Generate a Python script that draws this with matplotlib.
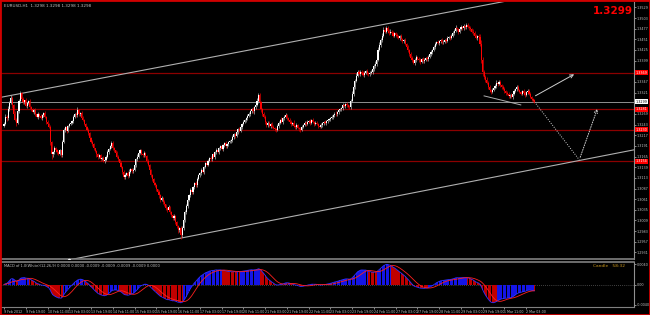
import numpy as np
import pandas as pd
import matplotlib
matplotlib.use("Agg")
import matplotlib.pyplot as plt
from matplotlib.patches import Rectangle

# ---------------- data (EURUSD H1, prices in pips: 3245 -> 1.3245) ----------------
first_open_pips = 3240
close_pips = [
    3245, 3262, 3258, 3280, 3295, 3308, 3290, 3270, 3255, 3247,
    3275, 3300, 3320, 3305, 3298, 3302, 3288, 3295, 3300, 3285,
    3280, 3274, 3278, 3268, 3262, 3270, 3265, 3260, 3266, 3271,
    3262, 3250, 3245, 3237, 3200, 3170, 3175, 3185, 3181, 3176,
    3172, 3180, 3169, 3200, 3230, 3236, 3228, 3240, 3244, 3247,
    3252, 3262, 3270, 3266, 3279, 3268, 3272, 3260, 3254, 3245,
    3238, 3230, 3222, 3210, 3200, 3195, 3185, 3178, 3170, 3164,
    3168, 3160, 3162, 3155, 3157, 3165, 3175, 3184, 3190, 3198,
    3185, 3180, 3174, 3165, 3158, 3150, 3140, 3128, 3115, 3120,
    3125, 3118, 3128, 3135, 3130, 3132, 3145, 3158, 3165, 3174,
    3180, 3172, 3168, 3174, 3166, 3155, 3145, 3132, 3120, 3110,
    3100, 3095, 3085, 3078, 3070, 3059, 3065, 3055, 3048, 3040,
    3035, 3042, 3030, 3022, 3015, 3020, 3005, 2995, 2985, 2990,
    2974, 2990, 3010, 3030, 3045, 3060, 3070, 3083, 3078, 3090,
    3100, 3095, 3110, 3120, 3125, 3132, 3128, 3140, 3150, 3145,
    3155, 3162, 3158, 3170, 3165, 3175, 3181, 3176, 3185, 3190,
    3184, 3192, 3198, 3190, 3195, 3200, 3202, 3205, 3212, 3220,
    3215, 3225, 3232, 3228, 3238, 3245, 3250, 3255, 3259, 3265,
    3270, 3276, 3280, 3275, 3285, 3291, 3300, 3315, 3298, 3280,
    3270, 3262, 3250, 3242, 3248, 3240, 3245, 3238, 3235, 3232,
    3230, 3240, 3248, 3255, 3250, 3258, 3262, 3266, 3260, 3255,
    3250, 3245, 3248, 3240, 3236, 3242, 3235, 3232, 3230, 3238,
    3242, 3248, 3245, 3250, 3252, 3248, 3254, 3250, 3245, 3248,
    3244, 3240, 3238, 3242, 3246, 3250, 3248, 3252, 3255, 3256,
    3259, 3262, 3266, 3270, 3268, 3274, 3278, 3280, 3283, 3290,
    3288, 3292, 3290, 3287, 3286, 3300, 3318, 3335, 3350, 3362,
    3371, 3366, 3372, 3368, 3365, 3370, 3374, 3368, 3366, 3370,
    3372, 3378, 3385, 3392, 3401, 3425, 3438, 3449, 3460, 3474,
    3470, 3479, 3472, 3466, 3470, 3466, 3460, 3466, 3462, 3458,
    3454, 3458, 3452, 3446, 3449, 3440, 3432, 3425, 3415, 3406,
    3400, 3393, 3400, 3408, 3404, 3401, 3396, 3402, 3398, 3401,
    3405, 3402, 3408, 3415, 3420, 3425, 3432, 3440, 3445, 3442,
    3446, 3449, 3444, 3445, 3450, 3448, 3454, 3457, 3455, 3460,
    3466, 3472, 3479, 3475, 3470, 3476, 3481, 3478, 3483, 3480,
    3486, 3482, 3479, 3475, 3470, 3466, 3460, 3454, 3458, 3457,
    3440, 3401, 3371, 3360, 3352, 3345, 3335, 3327, 3322, 3328,
    3332, 3338, 3345, 3342, 3347, 3340, 3335, 3330, 3325, 3320,
    3318, 3312, 3315, 3310, 3318, 3325, 3330, 3335, 3328, 3322,
    3318, 3324, 3320, 3315, 3322, 3325, 3318, 3310, 3305, 3302,
    3298,
]
# wick lengths above the body top / below the body bottom, in pips
upper_wick_pips = [
    4, 6, 5, 8, 5, 7, 4, 3, 5, 3,   5, 6, 4, 3, 6, 2, 5, 4, 3, 5,
    3, 4, 2, 5, 3, 4, 2, 3, 4, 2,   4, 3, 5, 2, 6, 3, 4, 5, 3, 2,
    3, 4, 2, 6, 4, 3, 5, 2, 3, 4,   3, 5, 2, 4, 6, 3, 2, 4, 3, 2,
    3, 2, 4, 3, 2, 5, 3, 2, 4, 3,   4, 3, 2, 5, 3, 4, 6, 3, 2, 4,
    5, 3, 2, 4, 3, 2, 3, 2, 4, 5,   3, 4, 6, 3, 2, 5, 4, 3, 5, 6,
    4, 3, 2, 5, 3, 2, 4, 3, 2, 3,   2, 4, 3, 2, 5, 3, 4, 2, 3, 2,
    3, 5, 2, 3, 4, 6, 3, 2, 4, 3,   5, 6, 8, 5, 4, 6, 3, 5, 7, 4,
    3, 5, 4, 3, 2, 4, 5, 3, 2, 6,   4, 3, 5, 2, 4, 3, 5, 6, 3, 2,
    5, 3, 2, 4, 3, 2, 3, 4, 5, 3,   2, 4, 3, 5, 2, 3, 4, 2, 3, 4,
    3, 2, 4, 5, 3, 4, 8, 6, 5, 3,   4, 3, 5, 2, 4, 3, 2, 4, 3, 2,
    3, 5, 4, 2, 6, 3, 4, 5, 3, 2,   4, 3, 2, 5, 3, 4, 2, 3, 4, 5,
    2, 3, 4, 3, 2, 5, 3, 4, 2, 3,   3, 2, 4, 5, 3, 2, 4, 3, 2, 3,
    3, 4, 2, 3, 5, 3, 2, 4, 3, 5,   4, 3, 5, 2, 3, 6, 8, 5, 4, 6,
    5, 4, 3, 5, 6, 4, 3, 5, 4, 3,   4, 3, 5, 6, 4, 8, 6, 5, 7, 8,
    6, 4, 5, 3, 6, 4, 5, 3, 4, 5,   3, 4, 5, 3, 4, 5, 3, 4, 3, 5,
    4, 3, 5, 4, 3, 5, 4, 3, 5, 4,   3, 5, 4, 3, 4, 3, 5, 4, 3, 4,
    4, 3, 5, 4, 3, 5, 4, 3, 5, 4,   5, 4, 6, 3, 4, 5, 4, 3, 5, 4,
    5, 4, 3, 5, 4, 6, 5, 4, 3, 5,   8, 10, 6, 5, 4, 6, 5, 4, 3, 5,
    4, 5, 6, 4, 5, 4, 3, 5, 4, 3,   4, 5, 3, 4, 5, 4, 3, 5, 4, 3,
    4, 3, 5, 4, 3, 5, 4, 5, 3, 4,   3,
]
lower_wick_pips = [
    3, 2, 6, 3, 4, 3, 6, 5, 4, 8,   3, 4, 5, 3, 4, 5, 3, 4, 3, 4,
    4, 3, 5, 4, 3, 5, 4, 3, 5, 4,   3, 5, 4, 3, 8, 10, 6, 5, 4, 5,
    4, 3, 5, 6, 3, 4, 5, 3, 4, 3,   3, 4, 3, 5, 4, 3, 5, 4, 3, 4,
    4, 3, 5, 4, 3, 5, 4, 3, 5, 4,   3, 5, 4, 3, 5, 4, 3, 5, 4, 3,
    4, 3, 5, 4, 3, 5, 4, 6, 5, 4,   3, 5, 4, 3, 5, 4, 3, 5, 4, 3,
    4, 3, 5, 4, 3, 5, 4, 3, 5, 4,   4, 5, 3, 4, 5, 4, 3, 5, 4, 6,
    5, 4, 6, 5, 4, 6, 5, 4, 6, 5,   10, 6, 5, 4, 6, 5, 4, 3, 5, 4,
    3, 5, 4, 3, 5, 4, 3, 5, 4, 3,   4, 3, 5, 4, 3, 5, 4, 3, 5, 4,
    3, 5, 4, 3, 5, 4, 3, 5, 4, 3,   4, 3, 5, 4, 3, 5, 4, 3, 5, 4,
    3, 5, 4, 3, 5, 4, 3, 5, 8, 6,   5, 4, 6, 5, 4, 3, 5, 4, 3, 5,
    4, 3, 5, 4, 3, 5, 4, 3, 5, 4,   3, 5, 4, 3, 5, 4, 3, 5, 4, 3,
    4, 3, 5, 4, 3, 5, 4, 3, 5, 4,   3, 5, 4, 3, 5, 4, 3, 5, 4, 3,
    4, 3, 5, 4, 3, 5, 4, 3, 5, 4,   3, 5, 4, 3, 5, 4, 3, 5, 4, 3,
    4, 3, 5, 4, 3, 5, 4, 3, 5, 4,   3, 5, 4, 3, 5, 4, 3, 5, 4, 3,
    4, 3, 5, 4, 3, 5, 4, 3, 5, 4,   3, 5, 4, 3, 5, 4, 3, 5, 4, 3,
    4, 3, 5, 4, 3, 5, 4, 3, 5, 4,   3, 5, 4, 3, 5, 4, 3, 5, 4, 3,
    4, 3, 5, 4, 3, 5, 4, 3, 5, 4,   3, 5, 4, 3, 5, 4, 3, 5, 4, 3,
    4, 3, 5, 4, 3, 5, 4, 3, 5, 4,   6, 8, 10, 6, 5, 4, 6, 5, 4, 3,
    4, 3, 5, 4, 3, 5, 4, 3, 5, 4,   3, 5, 4, 3, 5, 4, 3, 5, 4, 3,
    4, 3, 5, 4, 3, 5, 4, 3, 5, 4,   3,
]

time_labels = [
    "9 Feb 2012", "9 Feb 19:00", "10 Feb 11:00", "13 Feb 03:00", "13 Feb 19:00",
    "14 Feb 11:00", "15 Feb 03:00", "15 Feb 19:00", "16 Feb 11:00", "17 Feb 03:00",
    "17 Feb 19:00", "20 Feb 11:00", "21 Feb 03:00", "21 Feb 19:00", "22 Feb 11:00",
    "23 Feb 03:00", "23 Feb 19:00", "24 Feb 11:00", "27 Feb 03:00", "27 Feb 19:00",
    "28 Feb 11:00", "29 Feb 03:00", "29 Feb 19:00", "1 Mar 11:00", "2 Mar 03:00",
]
bars_per_label = 16

price_ticks = [1.3529, 1.3503, 1.3477, 1.3451, 1.3425, 1.3399, 1.3373, 1.3347,
               1.3321, 1.3295, 1.3269, 1.3243, 1.3217, 1.3191, 1.3165, 1.3139,
               1.3113, 1.3087, 1.3061, 1.3035, 1.3009, 1.2983, 1.2957, 1.2931]

level_lines = [1.3369, 1.3281, 1.3230, 1.3154]       # red horizontal levels
current_price = 1.3299

upper_channel = ([0, 277], [1.3311, 1.3486])          # (bar, price) anchors
lower_channel = ([48, 130], [1.2913, 1.2966])
divergence_main = ([353, 380], [1.3313, 1.3291])
arrow_solid = ([389, 421], [1.3310, 1.3369])
arrow_dotted_down = ([389, 423], [1.3303, 1.3157])
arrow_dotted_up = ([423, 437], [1.3157, 1.3288])

price_ylim = (1.29150, 1.35421)

# ---------------- derived series ----------------
closes = 1 + np.array(close_pips) / 10000.0
opens = np.r_[1 + first_open_pips / 10000.0, closes[:-1]]
highs = np.maximum(opens, closes) + np.array(upper_wick_pips) / 10000.0
lows = np.minimum(opens, closes) - np.array(lower_wick_pips) / 10000.0
idx = np.arange(len(closes))
s = pd.Series(closes)
macd = (s.ewm(span=12, adjust=False).mean() - s.ewm(span=26, adjust=False).mean()).values
signal = pd.Series(macd).rolling(9, min_periods=1).mean().values

# ---------------- figure ----------------
NARROW = ["Liberation Sans Narrow", "DejaVu Sans"]
W, H = 650, 315
fig = plt.figure(figsize=(W / 100, H / 100), dpi=100, facecolor="black")

def px_axes(x0, y0, x1, y1):
    return fig.add_axes([x0 / W, 1 - y1 / H, (x1 - x0) / W, (y1 - y0) / H])

ax = px_axes(1, 2, 634, 259)
axm = px_axes(1, 262, 634, 307)
xlim = (-3 / 1.36, (634 - 1 - 3) / 1.36)
grey = "#C0C0C0"
for a in (ax, axm):
    a.set_facecolor("black")
    a.set_xlim(*xlim)
    for sp in a.spines.values():
        sp.set_visible(False)
    a.spines["right"].set_visible(True)
    a.spines["right"].set_color("#909090")
    a.spines["right"].set_linewidth(0.8)
ax.spines["bottom"].set_visible(True)
ax.spines["bottom"].set_color("#808080")
ax.spines["bottom"].set_linewidth(1.2)
axm.spines["top"].set_visible(True)
axm.spines["top"].set_color("#808080")
axm.spines["top"].set_linewidth(1.2)
axm.spines["bottom"].set_visible(True)
axm.spines["bottom"].set_color("#808080")
axm.spines["bottom"].set_linewidth(0.8)

ax.set_ylim(*price_ylim)

# candles
up = closes >= opens
wick_col = np.where(up, "#B0B0B0", "#E00000")
ax.vlines(idx, lows, highs, colors=wick_col, lw=0.5, zorder=2.5)
body_lo = np.minimum(opens, closes)
body_h = np.maximum(np.abs(closes - opens), 0.00008)
ax.bar(idx[up], body_h[up], bottom=body_lo[up], width=0.8, color="white", linewidth=0, zorder=3)
ax.bar(idx[~up], body_h[~up], bottom=body_lo[~up], width=0.8, color="#FF0000", linewidth=0, zorder=3)

# level lines
for lv in level_lines:
    ax.axhline(lv, color="#8B0000", lw=0.9, zorder=1)
ax.axhline(current_price, color="#909090", lw=0.7, zorder=1)

# channel lines
def extend(pts, x0, x1):
    (a0, a1), (p0, p1) = pts
    k = (p1 - p0) / (a1 - a0)
    return [x0, x1], [p0 + k * (x0 - a0), p0 + k * (x1 - a0)]

xs, ys = extend(upper_channel, xlim[0], xlim[1])
ax.plot(xs, ys, color="#B0B0B0", lw=0.8, zorder=2)
xs, ys = extend(lower_channel, lower_channel[0][0], xlim[1])
ax.plot(xs, ys, color="#B0B0B0", lw=0.8, zorder=2)
ax.plot(lower_channel[0][0], lower_channel[1][0], "o", color="white", ms=1.5, zorder=4)
ax.plot(*divergence_main, color="#B0B0B0", lw=0.7, zorder=4)

ax.annotate("", xy=(arrow_solid[0][1], arrow_solid[1][1]), xytext=(arrow_solid[0][0], arrow_solid[1][0]),
            arrowprops=dict(arrowstyle="->", color="#D0D0D0", lw=0.7, mutation_scale=6))
ax.plot(*arrow_dotted_down, color="#D0D0D0", lw=0.7, ls=(0, (1, 1.5)))
ax.annotate("", xy=(arrow_dotted_up[0][1], arrow_dotted_up[1][1]), xytext=(arrow_dotted_up[0][0], arrow_dotted_up[1][0]),
            arrowprops=dict(arrowstyle="->", color="#D0D0D0", lw=0.7, ls=(0, (1, 1.5)), mutation_scale=6))

# price axis (labels hidden where a level box sits, as in the terminal)
boxed = level_lines + [current_price]
shown_ticks = [t for t in price_ticks if min(abs(t - b) for b in boxed) > 0.0010]
ax.yaxis.tick_right()
ax.set_yticks(shown_ticks)
ax.set_yticklabels([f"{v:.4f}" for v in shown_ticks], family=NARROW)
ax.tick_params(axis="y", colors=grey, labelsize=2.4, length=1.2, width=0.5, pad=0.6)
ax.set_xticks([])

def axis_box(a, val, text, fc, tc):
    a.annotate(text, xy=(1, val), xycoords=("axes fraction", "data"), xytext=(1.2, 0),
               textcoords="offset points", fontsize=2.4, color=tc, va="center", ha="left",
               family=NARROW,
               bbox=dict(boxstyle="square,pad=0.15", fc=fc, ec="none"), zorder=10,
               annotation_clip=False)

for lv in level_lines:
    axis_box(ax, lv, f"{lv:.4f}", "#FF0000", "white")
axis_box(ax, current_price, f"{current_price:.4f}", "white", "black")

ax.text(0.004, 0.992, "EURUSD,H1  1.3298 1.3298 1.3298 1.3298", transform=ax.transAxes,
        fontsize=3.0, color=grey, va="top", ha="left", family=NARROW)
ax.text(0.998, 0.985, f"{current_price:.4f}", transform=ax.transAxes, fontsize=7.5,
        color="#FF0000", fontweight="bold", va="top", ha="right")

# MACD panel
m = np.nanmax(np.abs(macd)) * 1.12
axm.set_ylim(-m, m)
cols = np.where(macd >= signal, "#1515E6", "#C00000")
axm.bar(idx, macd, width=0.8, color=cols, linewidth=0, zorder=2)
axm.plot(idx, macd, color="#3030FF", lw=0.6, zorder=3)
axm.plot(idx, signal, color="#FF2020", lw=0.6, zorder=3)
axm.axhline(0, color="#808080", lw=0.5, ls=(0, (1, 2)), zorder=1)
axm.yaxis.tick_right()
axm.set_yticks([m * 0.9, 0, -m * 0.9])
axm.set_yticklabels([f"{m*0.9:.4f}", "0.00", f"{-m*0.9:.4f}"], family=NARROW)
axm.tick_params(axis="y", colors=grey, labelsize=2.4, length=1.2, width=0.5, pad=0.6)
axm.text(0.004, 0.96, "MACD of 1.0(White)(12,26,9) 0.0000 0.0000 -0.0009 -0.0009 -0.0009 -0.0009 0.0000",
         transform=axm.transAxes, fontsize=2.6, color=grey, va="top", ha="left", family=NARROW)
axm.text(0.985, 0.96, "Candle   58:32", transform=axm.transAxes, fontsize=3.2,
         color="#C8961E", va="top", ha="right", family=NARROW)

tick_pos = [k * bars_per_label for k in range(len(time_labels))]
axm.set_xticks(tick_pos)
axm.set_xticklabels(time_labels, ha="left", family=NARROW)
axm.tick_params(axis="x", colors=grey, labelsize=2.3, length=1.2, width=0.5, pad=0.8)

fig.add_artist(Rectangle((0, 0), 1, 1, transform=fig.transFigure, fill=False,
                         edgecolor="#D00000", lw=2.0))
fig.savefig("out.png", dpi=100, facecolor="black")
